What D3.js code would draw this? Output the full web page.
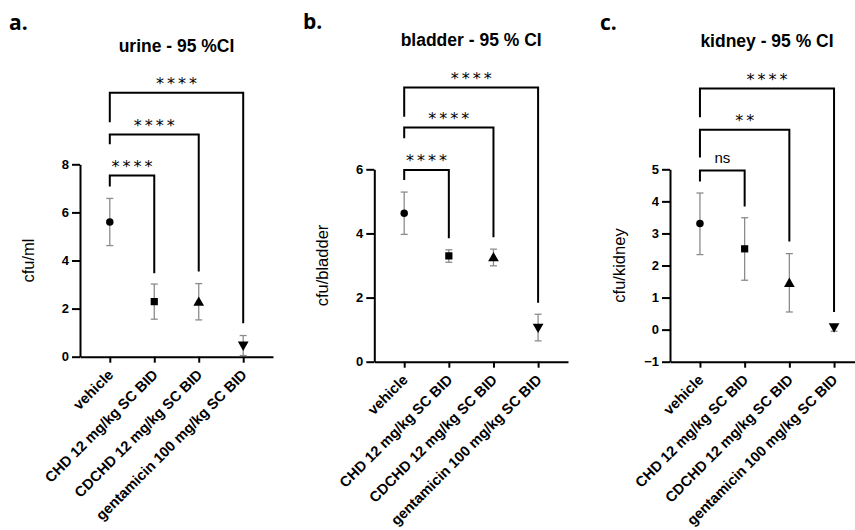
<!DOCTYPE html>
<html>
<head>
<meta charset="utf-8">
<script src="https://cdn.jsdelivr.net/npm/d3@7"></script>
<style>
  html, body { margin: 0; padding: 0; background: #fff; }
  svg { display: block; }
  text { font-family: "Liberation Sans", Arial, sans-serif; fill: #000; }
</style>
</head>
<body>
<svg id="chart" width="855" height="530"></svg>
<script>
// ---------- data ----------
const categories = ["vehicle", "CHD 12 mg/kg SC BID", "CDCHD 12 mg/kg SC BID", "gentamicin 100 mg/kg SC BID"];
const markerShapes = ["circle", "square", "triangle", "triangleDown"];

// urine (cfu/ml)
const urineMean = [5.60, 2.29, 2.25, 0.50];
const urineLow  = [4.62, 1.56, 1.53, 0.05];
const urineHigh = [6.58, 3.02, 3.04, 0.88];
const urineTicks = [0, 2, 4, 6, 8];
const urineBrackets = [
  { to: 1, label: "****", level: 7.53, leftEnd: 7.08, rightEnd: 3.47 },
  { to: 2, label: "****", level: 9.24, leftEnd: 8.83, rightEnd: 3.54 },
  { to: 3, label: "****", level: 10.97, leftEnd: 9.75, rightEnd: 1.39 }
];

// bladder (cfu/bladder)
const bladderMean = [4.63, 3.30, 3.23, 1.09];
const bladderLow  = [3.97, 3.10, 2.99, 0.65];
const bladderHigh = [5.29, 3.49, 3.51, 1.48];
const bladderTicks = [0, 2, 4, 6];
const bladderBrackets = [
  { to: 1, label: "****", level: 5.98, leftEnd: 5.67, rightEnd: 3.85 },
  { to: 2, label: "****", level: 7.30, leftEnd: 6.97, rightEnd: 3.88 },
  { to: 3, label: "****", level: 8.55, leftEnd: 7.64, rightEnd: 1.84 }
];

// kidney (cfu/kidney)
const kidneyMean = [3.31, 2.52, 1.43, 0.10];
const kidneyLow  = [2.34, 1.54, 0.55, -0.05];
const kidneyHigh = [4.26, 3.49, 2.37, 0.15];
const kidneyTicks = [-1, 0, 1, 2, 3, 4, 5];
const kidneyBrackets = [
  { to: 1, label: "ns",   level: 4.96, leftEnd: 4.62, rightEnd: 3.84 },
  { to: 2, label: "**",   level: 6.23, leftEnd: 5.37, rightEnd: 2.75 },
  { to: 3, label: "****", level: 7.52, leftEnd: 6.62, rightEnd: 0.55 }
];

// ---------- layout ----------
const panels = [
  { letter: "a.", letterX: 9,   letterY: 30, title: "urine - 95 %CI",    titleY: 52,
    yLabel: "cfu/ml", yLabelX: 28,
    x0: 80,  x1: 273, yTop: 164.3, yBot: 356.7, domain: [0, 8], ticks: urineTicks,
    mean: urineMean, low: urineLow, high: urineHigh, brackets: urineBrackets },
  { letter: "b.", letterX: 303, letterY: 28.5, title: "bladder - 95 % CI", titleY: 46,
    yLabel: "cfu/bladder", yLabelX: 322,
    x0: 374.3, x1: 568, yTop: 169.3, yBot: 361.7, domain: [0, 6], ticks: bladderTicks,
    mean: bladderMean, low: bladderLow, high: bladderHigh, brackets: bladderBrackets },
  { letter: "c.", letterX: 600, letterY: 29.5, title: "kidney - 95 % CI", titleY: 47,
    yLabel: "cfu/kidney", yLabelX: 619,
    x0: 670, x1: 864, yTop: 169.3, yBot: 361.7, domain: [-1, 5], ticks: kidneyTicks,
    mean: kidneyMean, low: kidneyLow, high: kidneyHigh, brackets: kidneyBrackets }
];

const svg = d3.select("#chart");

const symbolFor = {
  circle:       d3.symbol().type(d3.symbolCircle).size(44)(),
  square:       d3.symbol().type(d3.symbolSquare).size(52)(),
  triangle:     d3.symbol().type(d3.symbolTriangle).size(50)(),
  triangleDown: d3.symbol().type(d3.symbolTriangle).size(50)()
};

panels.forEach(p => {
  const g = svg.append("g");
  const x = d3.scalePoint().domain(categories).range([p.x0, p.x1]).padding(0.67);
  const y = d3.scaleLinear().domain(p.domain).range([p.yBot, p.yTop]);

  // panel letter
  g.append("text").attr("x", p.letterX).attr("y", p.letterY)
    .style("font-family", "'Open Sans', 'DejaVu Sans', sans-serif")
    .style("font-weight", "bold").style("font-size", "21px").text(p.letter);

  // title
  g.append("text").attr("x", (p.x0 + p.x1) / 2).attr("y", p.titleY)
    .attr("text-anchor", "middle").style("font-weight", "bold").style("font-size", "17.5px")
    .text(p.title);

  // y axis
  const yAxis = g.append("g").attr("transform", `translate(${p.x0},0)`)
    .call(d3.axisLeft(y).tickValues(p.ticks).tickSize(8).tickSizeOuter(0).tickPadding(3).tickFormat(d3.format("d")));
  yAxis.select(".domain").attr("stroke", "#000").attr("stroke-width", 2);
  yAxis.selectAll(".tick line").attr("stroke", "#000").attr("stroke-width", 2);
  yAxis.selectAll(".tick text").style("font-family", "'Liberation Sans', Arial, sans-serif")
    .style("font-size", "13px").style("font-weight", "bold").attr("fill", "#000");

  // x axis
  const xAxis = g.append("g").attr("transform", `translate(0,${p.yBot})`)
    .call(d3.axisBottom(x).tickSize(6).tickSizeOuter(0));
  xAxis.select(".domain").attr("stroke", "#000").attr("stroke-width", 2);
  xAxis.selectAll(".tick line").attr("stroke", "#000").attr("stroke-width", 2);
  xAxis.selectAll(".tick text")
    .style("font-family", "'Liberation Sans', Arial, sans-serif")
    .style("font-size", "14.6px").style("font-weight", "bold").attr("fill", "#000")
    .attr("text-anchor", "end").attr("dy", null).attr("y", null)
    .attr("transform", "translate(4,19) rotate(-45)");

  // y label
  g.append("text")
    .attr("transform", `translate(${p.yLabelX},${(p.yTop + p.yBot) / 2}) rotate(-90)`)
    .attr("text-anchor", "middle").attr("dy", "0.35em")
    .style("font-size", "16.5px").text(p.yLabel);

  // error bars
  const eb = g.append("g").attr("stroke", "#8c8c8c").attr("stroke-width", 1.3).attr("fill", "none");
  categories.forEach((c, i) => {
    const cx = x(c);
    eb.append("line").attr("x1", cx).attr("x2", cx).attr("y1", y(p.low[i])).attr("y2", y(p.high[i]));
    eb.append("line").attr("x1", cx - 3.5).attr("x2", cx + 3.5).attr("y1", y(p.low[i])).attr("y2", y(p.low[i]));
    eb.append("line").attr("x1", cx - 3.5).attr("x2", cx + 3.5).attr("y1", y(p.high[i])).attr("y2", y(p.high[i]));
  });

  // markers
  categories.forEach((c, i) => {
    const shape = markerShapes[i];
    g.append("path").attr("d", symbolFor[shape]).attr("fill", "#000")
      .attr("transform", `translate(${x(c)},${y(p.mean[i])})` + (shape === "triangleDown" ? " rotate(180)" : ""));
  });

  // significance brackets
  p.brackets.forEach(b => {
    const xl = x(categories[0]), xr = x(categories[b.to]);
    g.append("path")
      .attr("d", `M${xl},${y(b.leftEnd)}V${y(b.level)}H${xr}V${y(b.rightEnd)}`)
      .attr("fill", "none").attr("stroke", "#000").attr("stroke-width", 2);
    const mid = (xl + xr) / 2;
    const starY = y(b.level) - 13;
    if (/^\*+$/.test(b.label)) {
      const n = b.label.length;
      for (let k = 0; k < n; k++) {
        g.append("text").attr("x", mid + (k - (n - 1) / 2) * 11).attr("y", starY + 9.5)
          .attr("text-anchor", "middle")
          .style("font-family", "'DejaVu Sans', sans-serif").style("font-size", "16px")
          .text("*");
      }
    } else {
      g.append("text").attr("x", mid).attr("y", starY + 5)
        .attr("text-anchor", "middle").style("font-size", "15px").text(b.label);
    }
  });
});
</script>
</body>
</html>
